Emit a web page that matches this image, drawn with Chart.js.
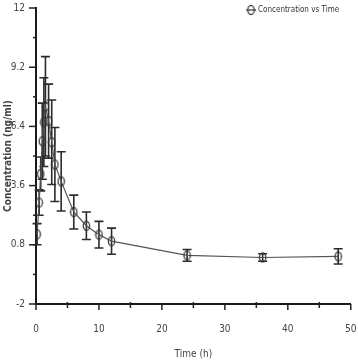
<!DOCTYPE html>
<html>
<head>
<meta charset="utf-8">
<script src="https://cdn.jsdelivr.net/npm/chart.js@4/dist/chart.umd.min.js"></script>
<style>
  html, body { margin: 0; padding: 0; background: #fff; }
  #wrap { width: 358px; height: 364px; }
</style>
</head>
<body>
<div id="wrap"><canvas id="pkChart" width="358" height="364"></canvas></div>
<script>
// values
const timeH = [0.17, 0.5, 0.75, 1, 1.25, 1.5, 2, 2.5, 3, 4, 6, 8, 10, 12, 24, 36, 48];
const concMean = [1.3, 2.8, 4.15, 5.7, 6.6, 7.35, 6.65, 5.65, 4.6, 3.8, 2.35, 1.7, 1.28, 0.97, 0.3, 0.2, 0.25];
const concSD = [0.5, 0.6, 0.8, 1.8, 2.1, 2.35, 1.75, 2.0, 1.75, 1.4, 0.8, 0.65, 0.63, 0.62, 0.28, 0.18, 0.36];

const yTicks = [-2, 0.8, 3.6, 6.4, 9.2, 12];
const xTicks = [0, 10, 20, 30, 40, 50];

const FONT = "'Liberation Sans Narrow', 'DejaVu Sans Condensed', 'Liberation Sans', sans-serif";

// hollow ellipse marker, the original looks squeezed sideways
function makeMarker() {
    const c = document.createElement('canvas');
    c.width = 9; c.height = 12;
    const g = c.getContext('2d');
    g.strokeStyle = '#333';
    g.lineWidth = 1.2;
    g.beginPath();
    g.ellipse(4.5, 6, 3.2, 4.6, 0, 0, Math.PI * 2);
    g.stroke();
    return c;
}
const marker = makeMarker();

const errorBars = {
    id: 'errorBars',
    beforeDatasetsDraw(chart) {
        const {ctx, scales: {x, y}} = chart;
        ctx.save();
        ctx.strokeStyle = '#2b2b2b';
        ctx.lineWidth = 1.6;
        timeH.forEach((t, i) => {
            const px = x.getPixelForValue(t);
            const top = y.getPixelForValue(concMean[i] + concSD[i]);
            const bot = y.getPixelForValue(concMean[i] - concSD[i]);
            ctx.beginPath();
            ctx.moveTo(px, top); ctx.lineTo(px, bot);
            ctx.moveTo(px - 4.5, top); ctx.lineTo(px + 4.5, top);
            ctx.moveTo(px - 4.5, bot); ctx.lineTo(px + 4.5, bot);
            ctx.stroke();
        });
        ctx.restore();
    }
};

// tick marks (major + minor) and the legend
const axisDecor = {
    id: 'axisDecor',
    afterDraw(chart) {
        const {ctx, scales: {x, y}, chartArea} = chart;
        ctx.save();
        ctx.strokeStyle = '#222';
        ctx.lineWidth = 1.5;
        const x0 = chartArea.left, yb = chartArea.bottom;
        yTicks.forEach((v, i) => {
            const py = y.getPixelForValue(v);
            ctx.beginPath(); ctx.moveTo(x0 - 7, py); ctx.lineTo(x0, py); ctx.stroke();
            if (i < yTicks.length - 1) {
                const pm = y.getPixelForValue((v + yTicks[i + 1]) / 2);
                ctx.beginPath(); ctx.moveTo(x0 - 3, pm); ctx.lineTo(x0 + 1, pm); ctx.stroke();
            }
        });
        xTicks.forEach((v, i) => {
            const px = x.getPixelForValue(v);
            ctx.beginPath(); ctx.moveTo(px, yb); ctx.lineTo(px, yb + 6); ctx.stroke();
            if (i < xTicks.length - 1) {
                const pm = x.getPixelForValue((v + xTicks[i + 1]) / 2);
                ctx.beginPath(); ctx.moveTo(pm, yb - 2); ctx.lineTo(pm, yb + 4); ctx.stroke();
            }
        });

        // legend, top right
        const ds = chart.data.datasets[0];
        ctx.strokeStyle = '#444';
        ctx.lineWidth = 1.3;
        ctx.beginPath(); ctx.moveTo(246, 10); ctx.lineTo(256, 10); ctx.stroke();
        ctx.drawImage(marker, 251 - 4.5, 10 - 6);
        ctx.fillStyle = '#333';
        ctx.font = '8px ' + FONT;
        ctx.textBaseline = 'middle';
        ctx.fillText(ds.label, 258, 10);
        ctx.restore();
    }
};

const ctx = document.getElementById('pkChart').getContext('2d');
new Chart(ctx, {
    type: 'line',
    data: {
        datasets: [{
            label: 'Concentration vs Time',
            data: timeH.map((t, i) => ({x: t, y: concMean[i]})),
            borderColor: '#555',
            borderWidth: 1.2,
            pointStyle: marker,
            pointRadius: 5,
            tension: 0,
            fill: false
        }]
    },
    options: {
        responsive: false,
        animation: false,
        layout: {padding: {top: 2, right: 2, left: 0, bottom: 0}},
        plugins: {legend: {display: false}, tooltip: {enabled: false}},
        scales: {
            x: {
                type: 'linear',
                min: 0, max: 50,
                afterBuildTicks: s => { s.ticks = xTicks.map(v => ({value: v})); },
                afterFit: s => { s.height = 60; },
                // tick marks are drawn by axisDecor; tickLength only pushes labels down
                grid: {display: false, drawTicks: true, tickLength: 17.5},
                border: {display: true, color: '#1a1a1a', width: 2},
                ticks: {padding: 1.5, color: '#444', font: {family: FONT, size: 10}, maxRotation: 0},
                title: {display: true, text: 'Time (h)', color: '#444',
                        font: {family: FONT, size: 10}, padding: {top: 0, bottom: 4}}
            },
            y: {
                min: -2, max: 12,
                afterBuildTicks: s => { s.ticks = yTicks.map(v => ({value: v})); },
                afterFit: s => { s.width = 36; },
                grid: {display: false, drawTicks: true, tickLength: 9},
                border: {display: true, color: '#1a1a1a', width: 2},
                ticks: {padding: 2, color: '#444', font: {family: FONT, size: 10}},
                title: {display: true, text: 'Concentration (ng/ml)', color: '#444',
                        font: {family: FONT, size: 10, weight: 'bold'}, padding: {top: 2, bottom: 0}}
            }
        }
    },
    plugins: [errorBars, axisDecor]
});
</script>
</body>
</html>
